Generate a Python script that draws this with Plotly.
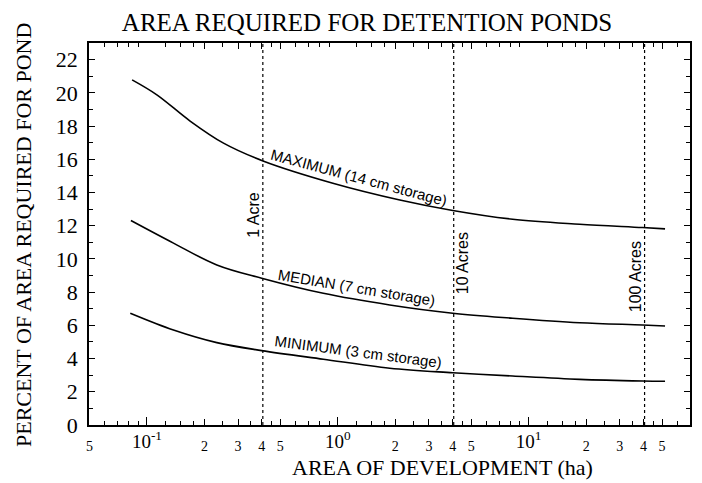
import numpy as np
import plotly.graph_objects as go

# ---- data ----
max_x = [0.0836, 0.1127, 0.1683, 0.2518, 0.4055, 0.942, 2.113, 4.0, 8.24, 18.49, 39.45, 51.8]
max_y = [20.78, 19.88, 18.30, 16.97, 15.90, 14.56, 13.55, 12.92, 12.39, 12.09, 11.89, 11.81]

med_x = [0.0824, 0.1377, 0.2323, 0.399, 0.8395, 1.871, 4.0, 8.24, 18.49, 39.45, 51.8]
med_y = [12.31, 10.95, 9.64, 8.84, 7.93, 7.23, 6.73, 6.43, 6.16, 6.02, 5.96]

min_x = [0.0818, 0.1377, 0.2323, 0.399, 0.8395, 1.871, 4.0, 8.24, 18.49, 39.45, 51.8]
min_y = [6.73, 5.72, 4.96, 4.48, 3.96, 3.42, 3.15, 2.95, 2.75, 2.65, 2.63]

curve_labels = ["MAXIMUM (14 cm storage)", "MEDIAN (7 cm storage)", "MINIMUM (3 cm storage)"]

acre_lines_ha = [0.4047, 4.047, 40.47]
acre_labels = ["1 Acre", "10 Acres", "100 Acres"]

x_small_tickvals = [0.05, 0.2, 0.3, 0.4, 0.5, 2, 3, 4, 5, 20, 30, 40, 50]
x_small_ticktext = ["5", "2", "3", "4", "5", "2", "3", "4", "5", "2", "3", "4", "5"]
x_decade_tickvals = [0.1, 1, 10]
x_decade_ticktext = ["10<sup>-1</sup>", "10<sup>0</sup>", "10<sup>1</sup>"]
x_minor = [0.06, 0.07, 0.08, 0.09,
           0.125, 0.15, 0.175, 0.25, 0.35, 0.45, 0.6, 0.7, 0.8, 0.9,
           1.25, 1.5, 1.75, 2.5, 3.5, 4.5, 6, 7, 8, 9,
           12.5, 15, 17.5, 25, 35, 45, 60]
y_tickvals = list(range(0, 23, 2))
y_minor = list(range(1, 24, 2))

SERIF = "Liberation Serif"
SANS = "Liberation Sans"
XRANGE = [np.log10(0.0497), np.log10(70)]

fig = go.Figure()

for xs, ys in [(max_x, max_y), (med_x, med_y), (min_x, min_y)]:
    fig.add_trace(go.Scatter(x=xs, y=ys, mode="lines",
                             line=dict(color="black", width=1.6, shape="spline", smoothing=1.0),
                             hoverinfo="skip", showlegend=False))

for v in acre_lines_ha:
    fig.add_trace(go.Scatter(x=[v, v], y=[0, 23], mode="lines",
                             line=dict(color="black", width=1.2, dash="dot"),
                             hoverinfo="skip", showlegend=False))

# invisible trace on the overlay axis so it is drawn
fig.add_trace(go.Scatter(x=[1], y=[0], xaxis="x2", mode="markers",
                         marker=dict(opacity=0), hoverinfo="skip", showlegend=False))

fig.update_layout(
    width=702, height=483,
    margin=dict(l=89, r=12, t=43, b=58),
    paper_bgcolor="white", plot_bgcolor="white",
    showlegend=False,
    title=dict(text="AREA REQUIRED FOR DETENTION PONDS",
               font=dict(family=SERIF, size=25, color="black"),
               x=367 / 702, xanchor="center", xref="container",
               y=1 - 22 / 483, yanchor="middle", yref="container"),
    xaxis=dict(type="log", range=XRANGE, automargin=False,
               tickmode="array", tickvals=x_small_tickvals, ticktext=x_small_ticktext,
               tickfont=dict(family=SERIF, size=14, color="black"),
               ticks="inside", ticklen=6, tickwidth=1, tickcolor="black",
               minor=dict(tickmode="array", tickvals=x_minor, ticks="inside",
                          ticklen=4, tickwidth=1, tickcolor="black", showgrid=False),
               showline=True, linecolor="black", linewidth=1.5, mirror="ticks",
               showgrid=False, zeroline=False, ticklabelstandoff=7),
    xaxis2=dict(type="log", range=XRANGE, overlaying="x", anchor="y", side="bottom",
                automargin=False,
                tickmode="array", tickvals=x_decade_tickvals, ticktext=x_decade_ticktext,
                tickfont=dict(family=SERIF, size=19, color="black"),
                ticks="inside", ticklen=8, tickwidth=1, tickcolor="black",
                showline=False, showgrid=False, zeroline=False, ticklabelstandoff=3),
    yaxis=dict(range=[0, 23], automargin=False, tickmode="array", tickvals=y_tickvals,
               ticktext=[str(v) for v in y_tickvals],
               tickfont=dict(family=SERIF, size=22, color="black"),
               ticks="inside", ticklen=6, tickwidth=1, tickcolor="black",
               minor=dict(tickmode="array", tickvals=y_minor, ticks="inside",
                          ticklen=4, tickwidth=1, tickcolor="black", showgrid=False),
               showline=True, linecolor="black", linewidth=1.5, mirror="ticks",
               showgrid=False, zeroline=False, ticklabelstandoff=5),
)

annotations = []
# axis titles
annotations.append(dict(text="AREA OF DEVELOPMENT (ha)", xref="paper", yref="paper",
                        x=(442 - 89) / 601, y=(425 - 468) / 382, showarrow=False,
                        xanchor="center", yanchor="middle",
                        font=dict(family=SERIF, size=22, color="black")))
annotations.append(dict(text="PERCENT OF AREA REQUIRED FOR POND", xref="paper", yref="paper",
                        x=(23 - 89) / 601, y=(425 - 235) / 382, showarrow=False,
                        textangle=-90, xanchor="center", yanchor="middle",
                        font=dict(family=SERIF, size=22, color="black")))

# curve labels (x in ha, y in percent, angle in degrees)
label_pos = [(1.29, 14.88, 15), (1.26, 8.28, 9.5), (1.27, 4.40, 7.5)]
for txt, (lx, ly, ang) in zip(curve_labels, label_pos):
    annotations.append(dict(text=txt, x=np.log10(lx), y=ly, xref="x", yref="y",
                            showarrow=False, textangle=ang, xanchor="center", yanchor="middle",
                            font=dict(family=SANS, size=15, color="black")))

# acre labels
acre_label_y = [12.65, 9.72, 8.93]
acre_shift = [-9, 9, -9]
for v, txt, ly, sh in zip(acre_lines_ha, acre_labels, acre_label_y, acre_shift):
    annotations.append(dict(text=txt, x=np.log10(v), y=ly, xref="x", yref="y", xshift=sh,
                            showarrow=False, textangle=-90, xanchor="center", yanchor="middle",
                            font=dict(family=SANS, size=16, color="black")))

fig.update_layout(annotations=annotations)
fig.write_html("out.html", config={"displayModeBar": False},
               post_script="document.body.style.margin='0px';")
